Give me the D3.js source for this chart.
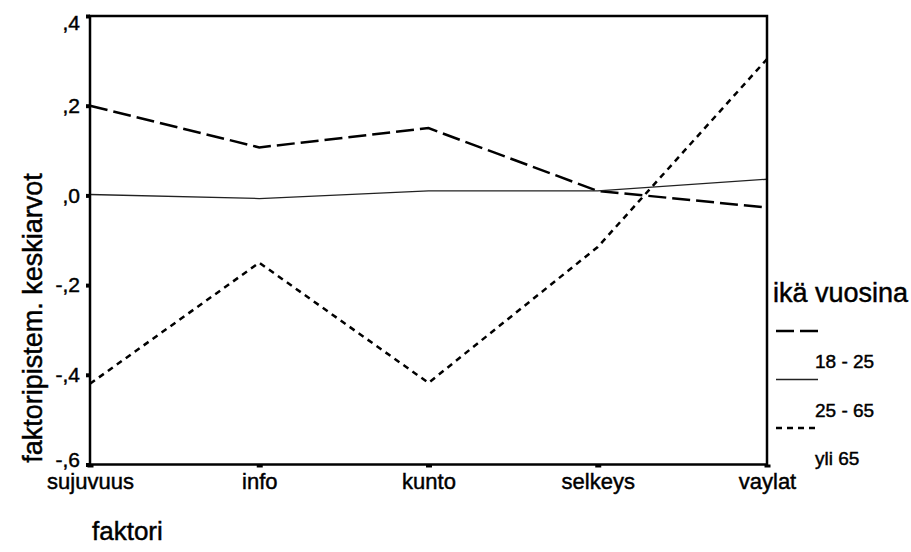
<!DOCTYPE html>
<html>
<head>
<meta charset="utf-8">
<script src="https://cdn.jsdelivr.net/npm/d3@7"></script>
<style>
  body { margin: 0; background: #fff; }
  text { font-family: "Liberation Sans", Arial, sans-serif; fill: #000; stroke: #000; stroke-width: 0.45px; }
</style>
</head>
<body>
<div id="chart"></div>
<script>
// data
const categories = ['sujuvuus', 'info', 'kunto', 'selkeys', 'vaylat']
const ageGroups = ['18 - 25', '25 - 65', 'yli 65']
const young = [0.2, 0.107, 0.15, 0.01, -0.027]
const middle = [0.002, -0.007, 0.01, 0.01, 0.036]
const old = [-0.42, -0.15, -0.418, -0.115, 0.304]
const yTicks = [0.4, 0.2, 0, -0.2, -0.4, -0.6]
const yTickLabels = [',4', ',2', ',0', '-,2', '-,4', '-,6']

const series = [
  { name: ageGroups[0], values: young, dash: '18,6', width: 2.5, color: '#000' },
  { name: ageGroups[1], values: middle, dash: null, width: 1.3, color: '#222' },
  { name: ageGroups[2], values: old, dash: '6,5', width: 2.5, color: '#000' },
]

const W = 911
const H = 552
const margin = { top: 16, right: 144, bottom: 87.5, left: 90 }
const width = W - margin.left - margin.right
const height = H - margin.top - margin.bottom

const svg = d3
  .select('#chart')
  .append('svg')
  .attr('width', W)
  .attr('height', H)

const g = svg.append('g').attr('transform', `translate(${margin.left},${margin.top})`)

const x = d3.scalePoint().domain(categories).range([0, width]).padding(0)
const y = d3.scaleLinear().domain([-0.6, 0.4]).range([height, 0])

// axes
const yAxis = g
  .append('g')
  .call(
    d3
      .axisLeft(y)
      .tickValues(yTicks)
      .tickFormat((d, i) => yTickLabels[i])
      .tickSize(4)
      .tickPadding(6),
  )
yAxis.select('.domain').remove()
yAxis.selectAll('.tick line').attr('stroke', '#000').attr('stroke-width', 4)
yAxis.selectAll('.tick text').attr('font-size', 21).attr('fill', '#000')
// top label sits below the corner
yAxis.selectAll('.tick text').filter((d) => d === 0.4).attr('dy', '0.62em')
yAxis.selectAll('.tick text').filter((d) => d === -0.6).attr('dy', '0.1em')

const xAxis = g
  .append('g')
  .attr('transform', `translate(0,${height})`)
  .call(d3.axisBottom(x).tickSize(3).tickPadding(6))
xAxis.select('.domain').remove()
xAxis.selectAll('.tick line').attr('stroke', '#000').attr('stroke-width', 6)
xAxis.selectAll('.tick text').attr('font-size', 22).attr('fill', '#000')

// lines
const line = d3
  .line()
  .x((d, i) => x(categories[i]))
  .y((d) => y(d))

series.forEach((s) => {
  g.append('path')
    .datum(s.values)
    .attr('fill', 'none')
    .attr('stroke', s.color)
    .attr('stroke-width', s.width)
    .attr('stroke-dasharray', s.dash)
    .attr('d', line)
})

// frame
g.append('rect')
  .attr('x', 0)
  .attr('y', 0)
  .attr('width', width)
  .attr('height', height)
  .attr('fill', 'none')
  .attr('stroke', '#000')
  .attr('stroke-width', 2.5)

// axis titles
svg
  .append('text')
  .attr('transform', `translate(42,318) rotate(-90)`)
  .attr('text-anchor', 'middle')
  .attr('font-size', 27)
  .text('faktoripistem. keskiarvot')

svg.append('text').attr('x', 92).attr('y', 540).attr('font-size', 26).text('faktori')

// legend
const legend = svg.append('g').attr('transform', 'translate(773,302)')
legend.append('text').attr('x', 0).attr('y', 0).attr('font-size', 27).text('ikä vuosina')

series.forEach((s, i) => {
  const ly = 29 + i * 48.5
  legend
    .append('line')
    .attr('x1', 3)
    .attr('x2', 45)
    .attr('y1', ly)
    .attr('y2', ly)
    .attr('stroke', s.color)
    .attr('stroke-width', s.width)
    .attr('stroke-dasharray', s.dash)
  legend
    .append('text')
    .attr('x', 42)
    .attr('y', ly + 37)
    .attr('font-size', 19)
    .text(s.name)
})
</script>
</body>
</html>
